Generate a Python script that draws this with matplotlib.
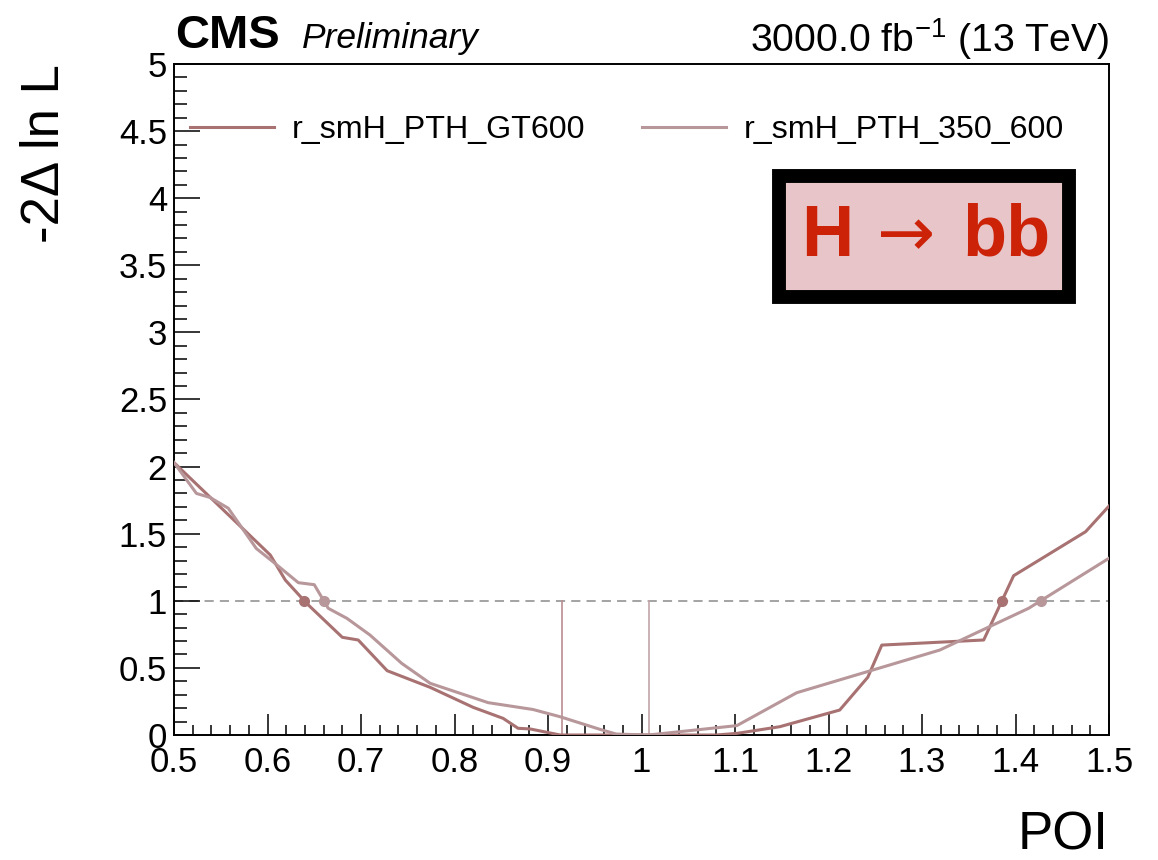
import numpy as np
import matplotlib
matplotlib.use("Agg")
import matplotlib.pyplot as plt
from matplotlib.patches import Rectangle
from matplotlib.ticker import MultipleLocator

plt.rcParams['font.family'] = ['Liberation Sans', 'DejaVu Sans']

# Likelihood scans (POI value vs -2 Delta lnL)
poi_gt600 = [0.500, 0.603, 0.619, 0.642, 0.680, 0.697, 0.728, 0.774, 0.820,
             0.852, 0.868, 0.881, 0.913, 1.080, 1.102, 1.148, 1.212, 1.242,
             1.257, 1.366, 1.398, 1.475, 1.500]
nll_gt600 = [2.030, 1.341, 1.155, 0.980, 0.728, 0.708, 0.479, 0.355, 0.206,
             0.124, 0.050, 0.045, 0.000, 0.000, 0.012, 0.062, 0.186, 0.430,
             0.670, 0.708, 1.187, 1.515, 1.706]

poi_350_600 = [0.500, 0.524, 0.5385, 0.558, 0.588, 0.606, 0.633, 0.650, 0.665,
               0.685, 0.7096, 0.7435, 0.774, 0.836, 0.884, 0.913, 0.9556, 0.973,
               1.0075, 1.102, 1.166, 1.319, 1.414, 1.500]
nll_350_600 = [2.030, 1.800, 1.770, 1.690, 1.390, 1.290, 1.135, 1.120, 0.944,
               0.869, 0.745, 0.534, 0.385, 0.241, 0.190, 0.136, 0.042, 0.007,
               0.000, 0.070, 0.315, 0.633, 0.944, 1.317]

best_fit = {"r_smH_PTH_GT600": 0.915, "r_smH_PTH_350_600": 1.0075}
labels = ["r_smH_PTH_GT600", "r_smH_PTH_350_600"]
colors = ["#a87272", "#b8979b"]
vline_colors = ["#b98e92", "#c2a4a8"]

x_ticks = [0.5, 0.6, 0.7, 0.8, 0.9, 1.0, 1.1, 1.2, 1.3, 1.4, 1.5]
y_ticks = [0, 0.5, 1, 1.5, 2, 2.5, 3, 3.5, 4, 4.5, 5]

W, H = 1158, 860
fig = plt.figure(figsize=(W / 100, H / 100), dpi=100)
ax = fig.add_axes([174 / W, 1 - 735 / H, (1109 - 174) / W, (735 - 64) / H])
ax.set_xlim(0.5, 1.5)
ax.set_ylim(0, 5)


def fmt_tick(v, _pos):
    return "%g" % v


ax.set_xticks(x_ticks)
ax.set_yticks(y_ticks)
ax.xaxis.set_major_formatter(plt.FuncFormatter(fmt_tick))
ax.yaxis.set_major_formatter(plt.FuncFormatter(fmt_tick))
ax.xaxis.set_minor_locator(MultipleLocator(0.02))
ax.yaxis.set_minor_locator(MultipleLocator(0.1))
ax.tick_params(axis='both', which='both', direction='in', top=False, right=False,
               width=1.1, labelsize=25)
ax.tick_params(axis='x', which='major', length=15, pad=8)
ax.tick_params(axis='x', which='minor', length=7.5)
ax.tick_params(axis='y', which='major', length=19, pad=5)
ax.tick_params(axis='y', which='minor', length=9.5)
for s in ax.spines.values():
    s.set_linewidth(1.4)

# Reference line at -2 Delta lnL = 1
ax.axhline(1.0, color="#8a8a8a", lw=1.1, ls=(0, (6, 4)), zorder=1)

series = [(poi_gt600, nll_gt600), (poi_350_600, nll_350_600)]
handles = []
for (xs, ys), lab, c, vc in zip(series, labels, colors, vline_colors):
    xs = np.asarray(xs)
    ys = np.asarray(ys)
    h, = ax.plot(xs, ys, color=c, lw=2.2, label=lab, zorder=3)
    handles.append(h)
    # vertical marker at best-fit value
    ax.plot([best_fit[lab], best_fit[lab]], [0, 1], color=vc, lw=1.2, zorder=2)
    # crossings of the 1-sigma line
    imin = int(np.argmin(ys))
    left_x = np.interp(1.0, ys[:imin + 1][::-1], xs[:imin + 1][::-1])
    right_x = np.interp(1.0, ys[imin:], xs[imin:])
    ax.plot([left_x, right_x], [1.0, 1.0], 'o', color=c, ms=7, zorder=4)

ax.legend(handles=handles, ncol=2, loc='center left',
          bbox_to_anchor=((190 - 174) / 935, (735 - 130) / 671),
          frameon=False, fontsize=23.2, handlelength=2.6,
          handletextpad=0.55, columnspacing=1.78, borderpad=0,
          borderaxespad=0)

ax.set_xlabel("POI", fontsize=38, loc='right')
ax.xaxis.set_label_coords(1.0, (735 - 811) / 671)
ax.xaxis.label.set_va('top')
ax.set_ylabel("-2\u0394 ln L", fontsize=38, loc='top')
ax.yaxis.set_label_coords((70 - 174) / 935, 1.0)

# Header texts
fig.text(175 / W, 1 - 48 / H, "CMS", fontsize=34, fontweight='bold',
         ha='left', va='baseline')
fig.text(302 / W, 1 - 48 / H, "Preliminary", fontsize=25.5, style='italic',
         ha='left', va='baseline')
fig.text(1110 / W, 1 - 52 / H, "3000.0 fb$^{\\mathregular{-1}}$ (13 TeV)",
         fontsize=28.3, ha='right', va='baseline')

# Channel label box
ax_box = fig.add_axes([0, 0, 1, 1], facecolor='none')
ax_box.set_xlim(0, W)
ax_box.set_ylim(H, 0)
ax_box.axis('off')
ax_box.add_patch(Rectangle((779, 176), 290, 121, facecolor="#e8c5c9",
                           edgecolor='black', lw=10, joinstyle='miter'))
red = "#cc2208"
ax_box.text(801, 237, "H", fontsize=52, fontweight='bold', color=red,
            ha='left', va='center')
ax_box.text(906, 237, "\u2192", fontsize=50, family='DejaVu Sans', color=red,
            ha='center', va='center')
ax_box.text(1051, 237, "bb", fontsize=52, fontweight='bold', color=red,
            ha='right', va='center')

fig.savefig("out.png", dpi=100)
